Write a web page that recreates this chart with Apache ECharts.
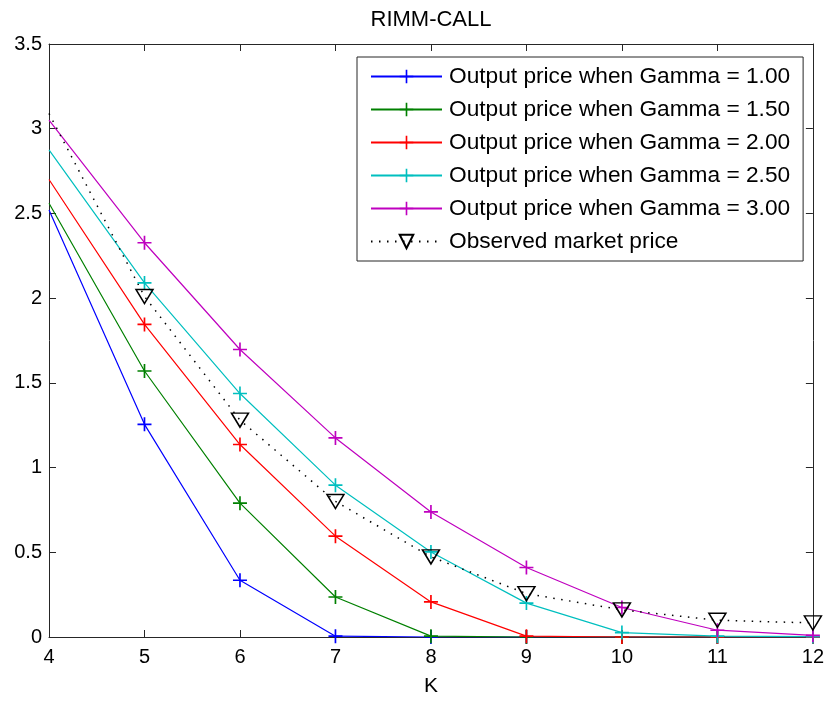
<!DOCTYPE html>
<html>
<head>
<meta charset="utf-8">
<script src="https://cdn.jsdelivr.net/npm/echarts@6/dist/echarts.min.js"></script>
<style>
  html, body { margin: 0; padding: 0; background: #fff; }
  #chart { width: 827px; height: 702px; }
</style>
</head>
<body>
<div id="chart"></div>
<script>
// Strike prices K
const strikes = [4, 5, 6, 7, 8, 9, 10, 11, 12];

// Model output prices for each Gamma
const gamma100 = [2.52, 1.255, 0.335, 0.005, 0, 0, 0, 0, 0];
const gamma150 = [2.56, 1.57, 0.79, 0.236, 0.005, 0, 0, 0, 0];
const gamma200 = [2.70, 1.845, 1.136, 0.595, 0.207, 0.005, 0, 0, 0];
const gamma250 = [2.875, 2.09, 1.437, 0.896, 0.502, 0.20, 0.026, 0.005, 0.002];
const gamma300 = [3.05, 2.327, 1.697, 1.175, 0.738, 0.41, 0.174, 0.04, 0.01];

// Observed market prices
const observed = [3.09, 2.01, 1.28, 0.80, 0.473, 0.256, 0.16, 0.099, 0.083];

const seriesNames = [
  'Output price when Gamma = 1.00',
  'Output price when Gamma = 1.50',
  'Output price when Gamma = 2.00',
  'Output price when Gamma = 2.50',
  'Output price when Gamma = 3.00',
  'Observed market price'
];
const seriesColors = ['#0000ff', '#008000', '#ff0000', '#00bfbf', '#bf00bf', '#000000'];

const yTicks = { min: 0, max: 3.5, interval: 0.5 };
const xTicks = { min: 4, max: 12, interval: 1 };

const FONT = '"Liberation Sans", Arial, Helvetica, sans-serif';
const AXIS_COLOR = '#262626';
const PLUS = 'path://M4.4,0H5.6V4.4H10V5.6H5.6V10H4.4V5.6H0V4.4H4.4Z';
const TRI_DOWN = 'path://M0,0L10,0L5,8.5Z';

// Points on the left edge of the axes carry no marker (clipped by the box)
const pairs = vals => strikes.map((k, i) =>
  k === xTicks.min ? { value: [k, vals[i]], symbol: 'none' } : [k, vals[i]]);

function modelSeries(idx, vals) {
  return {
    name: seriesNames[idx],
    type: 'line',
    data: pairs(vals),
    color: seriesColors[idx],
    symbol: PLUS,
    symbolSize: 14,
    showAllSymbol: true,
    clip: true,
    lineStyle: { width: 1.2, color: seriesColors[idx] },
    itemStyle: { color: seriesColors[idx] },
    emphasis: { disabled: true },
    animation: false
  };
}

const chart = echarts.init(document.getElementById('chart'), null, { renderer: 'canvas' });

const sideAxis = (extra) => Object.assign({
  type: 'value',
  axisLine: { show: true, onZero: false, lineStyle: { color: AXIS_COLOR, width: 1 } },
  axisTick: { show: true, inside: true, length: 7, lineStyle: { color: AXIS_COLOR } },
  axisLabel: { show: false },
  splitLine: { show: false }
}, extra);

chart.setOption({
  animation: false,
  backgroundColor: '#ffffff',
  textStyle: { fontFamily: FONT },
  title: {
    text: 'RIMM-CALL',
    left: 426,
    top: 4,
    textAlign: 'center',
    textStyle: { fontFamily: FONT, fontSize: 22, fontWeight: 'normal', color: '#000' }
  },
  grid: { left: 49, right: 14, top: 44, bottom: 65, containLabel: false },
  legend: {
    orient: 'vertical',
    left: 357,
    top: 57,
    padding: [8, 13, 8, 13],
    itemWidth: 71,
    itemHeight: 17,
    itemGap: 10,
    borderColor: AXIS_COLOR,
    borderWidth: 1,
    backgroundColor: '#ffffff',
    selectedMode: false,
    data: seriesNames,
    textStyle: { fontFamily: FONT, fontSize: 22.7, color: '#000', lineHeight: 22, padding: [0, 0, 0, 2] }
  },
  xAxis: [
    sideAxis({
      position: 'bottom',
      min: xTicks.min, max: xTicks.max, interval: xTicks.interval,
      name: 'K',
      nameLocation: 'middle',
      nameGap: 39,
      nameTextStyle: { fontFamily: FONT, fontSize: 21, color: '#000' },
      axisLabel: { show: true, margin: 10, fontFamily: FONT, fontSize: 20, color: '#000' }
    }),
    sideAxis({ position: 'top', min: xTicks.min, max: xTicks.max, interval: xTicks.interval })
  ],
  yAxis: [
    sideAxis({
      position: 'left',
      min: yTicks.min, max: yTicks.max, interval: yTicks.interval,
      axisLabel: { show: true, margin: 7, fontFamily: FONT, fontSize: 20, color: '#000' }
    }),
    sideAxis({ position: 'right', min: yTicks.min, max: yTicks.max, interval: yTicks.interval })
  ],
  series: [
    modelSeries(0, gamma100),
    modelSeries(1, gamma150),
    modelSeries(2, gamma200),
    modelSeries(3, gamma250),
    modelSeries(4, gamma300),
    {
      name: seriesNames[5],
      type: 'line',
      data: pairs(observed),
      color: '#000000',
      symbol: TRI_DOWN,
      symbolSize: [17, 14],
      showAllSymbol: true,
      clip: true,
      lineStyle: { width: 1.5, color: '#000000', type: [1.5, 6.5] },
      itemStyle: { color: 'rgba(0,0,0,0)', borderColor: '#000000', borderWidth: 1.5 },
      emphasis: { disabled: true },
      animation: false
    }
  ]
});
</script>
</body>
</html>
